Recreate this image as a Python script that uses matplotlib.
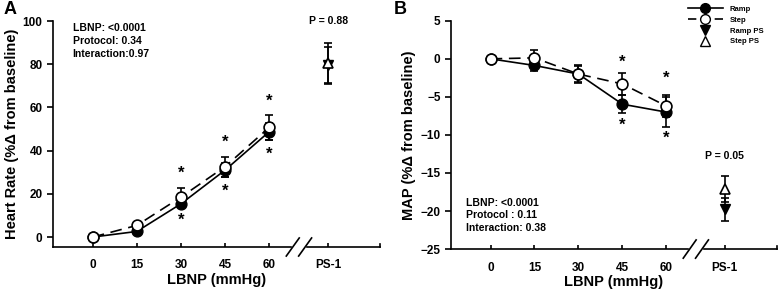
import numpy as np
import matplotlib.pyplot as plt
from matplotlib.lines import Line2D
import matplotlib.transforms as mtransforms

plt.rcParams['font.family'] = ['Liberation Sans', 'DejaVu Sans']
plt.rcParams['font.weight'] = 'bold'

lbnp = [0, 15, 30, 45, 60]
ps_x = 80
xtick_pos = [0, 15, 30, 45, 60, 80]
xtick_labels = ['0', '15', '30', '45', '60', 'PS-1']

# panel A: heart rate (% change from baseline)
hr_ramp = [0, 2.6, 15.4, 31.0, 48.8]
hr_ramp_err = [0, 0.8, 1.5, 3.3, 4.0]
hr_step = [0, 5.4, 18.5, 32.6, 50.8]
hr_step_err = [0, 0.8, 4.0, 4.6, 5.7]
hr_ramp_ps, hr_ramp_ps_err = 79.5, 8.5
hr_step_ps, hr_step_ps_err = 80.5, 9.3

# panel B: MAP (% change from baseline)
map_ramp = [0, -0.87, -2.0, -5.96, -7.0]
map_ramp_err = [0, 0.75, 1.2, 1.2, 2.0]
map_step = [0, 0.13, -2.0, -3.3, -6.2]
map_step_err = [0, 1.0, 1.0, 1.4, 1.5]
map_ramp_ps, map_ramp_ps_err = -19.8, 1.5
map_step_ps, map_step_ps_err = -17.1, 1.7

fig = plt.figure(figsize=(7.79, 2.93), dpi=100)
axA = fig.add_axes([0.068, 0.157, 0.42, 0.771])
axB = fig.add_axes([0.579, 0.150, 0.418, 0.779])

XLIM = (-13.5, 97.7)
LW = 1.2
MS = 7.8


def draw_panel(ax, ramp, ramp_err, step, step_err, rps, rps_err, sps, sps_err, ylim):
    ax.errorbar(lbnp, ramp, yerr=ramp_err, fmt='-o', color='black', mfc='black',
                mec='black', ms=MS, lw=LW, elinewidth=LW, capsize=3, capthick=LW, zorder=3)
    ax.errorbar(lbnp, step, yerr=step_err, fmt='o', color='black', mfc='white',
                mec='black', ms=MS, mew=LW, lw=LW, ls=(0, (7, 4)), elinewidth=LW,
                capsize=3, capthick=LW, zorder=4)
    ax.errorbar([ps_x], [rps], yerr=[rps_err], fmt='v', color='black', mfc='black',
                ms=MS, elinewidth=LW, capsize=3, capthick=LW, zorder=3)
    ax.errorbar([ps_x], [sps], yerr=[sps_err], fmt='^', color='black', mfc='white',
                mec='black', mew=LW, ms=MS, elinewidth=LW, capsize=3, capthick=LW, zorder=4)
    ax.set_xlim(*XLIM)
    ax.set_ylim(*ylim)
    ax.set_xticks(xtick_pos)
    ax.set_xticklabels(xtick_labels)
    ax.spines['top'].set_visible(False)
    ax.spines['right'].set_visible(False)
    ax.spines['bottom'].set_visible(False)
    ax.spines['left'].set_linewidth(LW)
    ax.tick_params(axis='x', direction='in', length=3, width=LW, pad=9, labelsize=8.5)
    ax.tick_params(axis='y', direction='out', length=4, width=LW, labelsize=8.5)
    # broken x-axis
    tr = mtransforms.blended_transform_factory(ax.transData, ax.transAxes)
    ax.plot([XLIM[0], 67.3], [0, 0], color='black', lw=LW, transform=tr, clip_on=False)
    ax.plot([72.8, XLIM[1]], [0, 0], color='black', lw=LW, transform=tr, clip_on=False)
    for c in (68, 72.2):
        ax.plot([c - 2.2, c + 2.2], [-0.04, 0.04], color='black', lw=LW,
                transform=tr, clip_on=False)
    ax.plot([XLIM[1], XLIM[1]], [0, 0.015], color='black', lw=LW, transform=tr, clip_on=False)
    ax.set_xlabel('LBNP (mmHg)', fontsize=10.5, fontweight='bold', labelpad=1)


draw_panel(axA, hr_ramp, hr_ramp_err, hr_step, hr_step_err,
           hr_ramp_ps, hr_ramp_ps_err, hr_step_ps, hr_step_ps_err, (-4.6, 100))
axA.set_yticks([0, 20, 40, 60, 80, 100])
axA.set_ylabel('Heart Rate (%\u0394 from baseline)', fontsize=10.5, fontweight='bold', labelpad=3)
axA.text(0.06, 0.99, 'LBNP: <0.0001\nProtocol: 0.34\nInteraction:0.97', transform=axA.transAxes,
         fontsize=7.5, fontweight='bold', va='top', ha='left', linespacing=1.35)
axA.text(ps_x, 100, 'P = 0.88', fontsize=7.5, fontweight='bold', ha='center', va='center')
for x, y in [(30, 29.5), (30, 8), (45, 43.7), (45, 21), (60, 63), (60, 38.5)]:
    axA.text(x, y, '*', fontsize=12, fontweight='bold', ha='center', va='center')

draw_panel(axB, map_ramp, map_ramp_err, map_step, map_step_err,
           map_ramp_ps, map_ramp_ps_err, map_step_ps, map_step_ps_err, (-25, 5))
axB.set_yticks([5, 0, -5, -10, -15, -20, -25])
axB.set_ylabel('MAP (%\u0394 from baseline)', fontsize=10.5, fontweight='bold', labelpad=3)
axB.text(0.045, 0.225, 'LBNP: <0.0001\nProtocol : 0.11\nInteraction: 0.38', transform=axB.transAxes,
         fontsize=7.5, fontweight='bold', va='top', ha='left', linespacing=1.35)
axB.text(ps_x, -12.8, 'P = 0.05', fontsize=7.5, fontweight='bold', ha='center', va='center')
for x, y in [(45, -0.4), (45, -8.7), (60, -2.6), (60, -10.5)]:
    axB.text(x, y, '*', fontsize=12, fontweight='bold', ha='center', va='center')

handles = [
    Line2D([], [], color='black', marker='o', mfc='black', ms=7, lw=LW),
    Line2D([], [], color='black', marker='o', mfc='white', ms=7, lw=LW, ls=(0, (5, 3))),
    Line2D([], [], color='black', marker='v', mfc='black', ms=7, lw=0),
    Line2D([], [], color='black', marker='^', mfc='white', ms=7, lw=0),
]
axB.legend(handles, ['Ramp', 'Step', 'Ramp PS', 'Step PS'], loc='upper right',
           bbox_to_anchor=(0.975, 1.09), frameon=False, prop={'size': 5.5, 'weight': 'bold'},
           handlelength=4.6, labelspacing=0.45, handletextpad=0.9, borderpad=0.2)

fig.text(0.004, 0.995, 'A', fontsize=13, fontweight='bold', va='top', ha='left')
fig.text(0.505, 0.995, 'B', fontsize=13, fontweight='bold', va='top', ha='left')

fig.savefig('out.png', dpi=100)
